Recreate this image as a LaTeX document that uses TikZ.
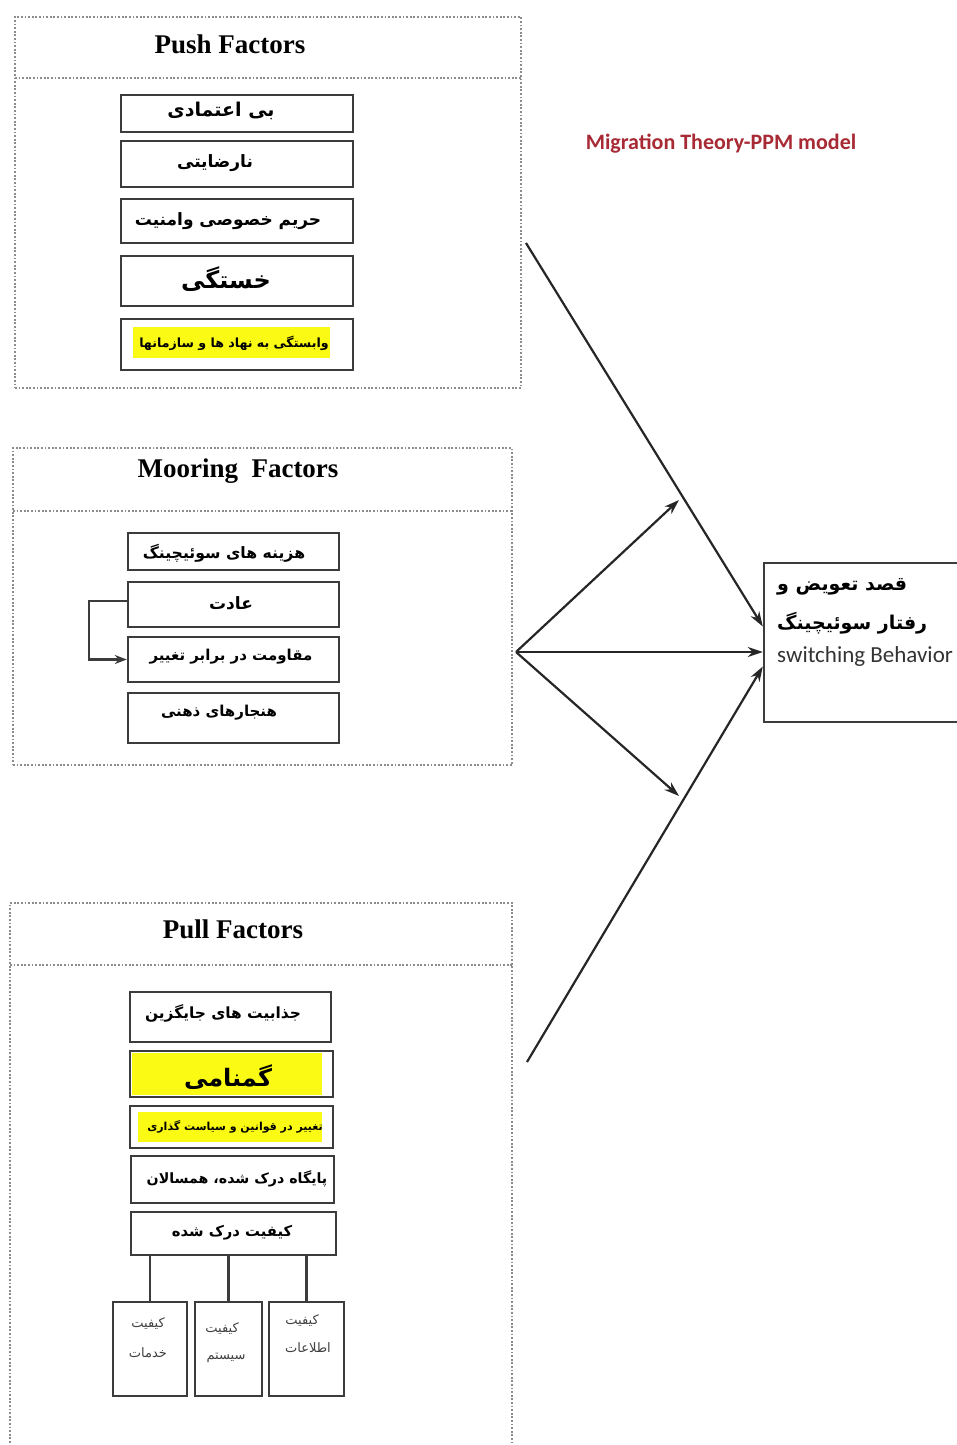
\documentclass[tikz,border=0pt]{standalone}
\usepackage{fontspec}
\setmainfont{Liberation Serif}
\newfontfamily\arabicfont[Script=Arabic]{DejaVu Sans}
\newfontfamily\calibrifont{Carlito}
\TeXXeTstate=1
\usetikzlibrary{arrows.meta}
\definecolor{titlered}{RGB}{168,42,52}
\definecolor{hl}{RGB}{250,250,20}
\definecolor{boxline}{RGB}{60,60,60}
\newcommand{\FA}[1]{\fontsize{#1}{#1}\selectfont\arabicfont\bfseries}
\newcommand{\FAr}[1]{\fontsize{#1}{#1}\selectfont\arabicfont}
\begin{document}
\begin{tikzpicture}[x=1pt,y=-1pt,
  outer/.style={draw=gray!90, line width=2pt, dash pattern=on 1.8pt off 1.8pt},
  fbox/.style={draw=boxline, line width=2.4pt, rectangle, inner sep=0pt},
  lbl/.style={inner sep=0pt, anchor=center},
  ttl/.style={inner sep=0pt, font=\fontsize{27}{27}\selectfont\bfseries},
  arr/.style={draw=black!85, line width=2.2pt, -{Stealth[length=15pt,width=10pt]}},
  conn/.style={draw=boxline, line width=2.4pt}]
\useasboundingbox (0,0) rectangle (957,1445);
\fill[white] (0,0) rectangle (957,1445);

% title
\node[lbl, text=titlered, font=\calibrifont\bfseries\fontsize{22}{22}\selectfont] (title) at (721,144) {Migration Theory-PPM model};

% ---------- Push ----------
\node[outer, minimum width=506pt, minimum height=371pt, inner sep=0pt] (push) at (268,202.5) {};
\draw[outer] (15,78) -- (521,78);
\node[ttl] (pusht) at (230,44) {Push Factors};
\node[fbox, minimum width=232pt, minimum height=37pt] (p1) at (237,113.5) {};
\node[fbox, minimum width=232pt, minimum height=46pt] (p2) at (237,164) {};
\node[fbox, minimum width=232pt, minimum height=44pt] (p3) at (237,221) {};
\node[fbox, minimum width=232pt, minimum height=50pt] (p4) at (237,281) {};
\node[fbox, minimum width=232pt, minimum height=51pt] (p5) at (237,344.5) {};
\fill[hl] (133,327) rectangle (330,358);
\node[lbl] (p1t) at (221,111) {\FA{19}\beginR بی اعتمادی\endR};
\node[lbl] (p2t) at (215,163) {\FA{17}\beginR نارضایتی\endR};
\node[lbl] (p3t) at (228,221) {\FA{17}\beginR حریم خصوصی وامنیت\endR};
\node[lbl] (p4t) at (226,279) {\FA{24}\beginR خستگی\endR};
\node[lbl] (p5t) at (234,343) {\FA{12.6}\beginR وابستگی به نهاد ها و سازمانها\endR};

% ---------- Mooring ----------
\node[outer, minimum width=499pt, minimum height=317pt, inner sep=0pt] (moor) at (262.5,606.5) {};
\draw[outer] (13,511) -- (512,511);
\node[ttl] (moort) at (238,471) {Mooring\ \ Factors};
\node[fbox, minimum width=211pt, minimum height=37pt] (m1) at (233.5,551.5) {};
\node[fbox, minimum width=211pt, minimum height=45pt] (m2) at (233.5,604.5) {};
\node[fbox, minimum width=211pt, minimum height=45pt] (m3) at (233.5,659.5) {};
\node[fbox, minimum width=211pt, minimum height=50pt] (m4) at (233.5,718) {};
\node[lbl] (m1t) at (224,553) {\FA{15.7}\beginR هزینه های سوئیچینگ\endR};
\node[lbl] (m2t) at (231,603) {\FA{17}\beginR عادت\endR};
\node[lbl] (m3t) at (231,657) {\FA{15}\beginR مقاومت در برابر تغییر\endR};
\node[lbl] (m4t) at (219,713) {\FA{15}\beginR هنجارهای ذهنی\endR};
\coordinate (loopL) at (89,601);
\draw[conn, -{Stealth[length=12pt,width=9pt]}] ([yshift=3.5pt]m2.west) -- (loopL) -- (loopL |- m3.west) -- (m3.west);

% ---------- Pull ----------
\draw[outer] (10,1450) -- (10,903) -- (512,903) -- (512,1450);
\draw[outer] (10,965) -- (512,965);
\node[ttl] (pullt) at (233,929) {Pull Factors};
\node[fbox, minimum width=201pt, minimum height=50pt] (q1) at (230.5,1017) {};
\node[fbox, minimum width=203pt, minimum height=46pt] (q2) at (231.5,1074) {};
\node[fbox, minimum width=203pt, minimum height=42pt] (q3) at (231.5,1127) {};
\node[fbox, minimum width=203pt, minimum height=47pt] (q4) at (232.5,1179.5) {};
\node[fbox, minimum width=205pt, minimum height=43pt] (q5) at (233.5,1233.5) {};
\fill[hl] (132,1053) rectangle (322,1095);
\fill[hl] (138,1112) rectangle (322,1142);
\node[lbl] (q1t) at (223,1013) {\FA{15.4}\beginR جذابیت های جایگزین\endR};
\node[lbl] (q2t) at (228,1077) {\FA{24}\beginR گمنامی\endR};
\node[lbl] (q3t) at (235,1127) {\FA{11}\beginR تغییر در قوانین و سیاست گذاری\endR};
\node[lbl] (q4t) at (237,1179) {\FA{14.2}\beginR پایگاه درک شده، همسالان\endR};
\node[lbl] (q5t) at (232,1233) {\FA{14.8}\beginR کیفیت درک شده\endR};
\node[fbox, minimum width=74pt, minimum height=94pt] (s1) at (150,1349) {};
\node[fbox, minimum width=67pt, minimum height=94pt] (s2) at (228.5,1349) {};
\node[fbox, minimum width=75pt, minimum height=94pt] (s3) at (306.5,1349) {};
\draw[conn] (s1.north) -- (s1.north |- q5.south);
\draw[conn] (s2.north) -- (s2.north |- q5.south);
\draw[conn] (s3.north) -- (s3.north |- q5.south);
\node[lbl, text=black!75] (s1a) at (148,1323) {\FAr{13}\beginR کیفیت\endR};
\node[lbl, text=black!75] (s1b) at (148,1353) {\FAr{13}\beginR خدمات\endR};
\node[lbl, text=black!75] (s2a) at (222,1328) {\FAr{13}\beginR کیفیت\endR};
\node[lbl, text=black!75] (s2b) at (226,1358) {\FAr{13}\beginR سیستم\endR};
\node[lbl, text=black!75] (s3a) at (302,1320) {\FAr{13}\beginR کیفیت\endR};
\node[lbl, text=black!75] (s3b) at (308,1348) {\FAr{13}\beginR اطلاعات\endR};

% ---------- Switching behaviour ----------
\node[fbox, minimum width=200pt, minimum height=159pt] (sb) at (864,642.5) {};
\node[lbl, anchor=west] (sb1) at (777,587) {\FA{19}\beginR قصد تعویض و\endR};
\node[lbl, anchor=west] (sb2) at (777,623) {\FA{19}\beginR رفتار سوئیچینگ\endR};
\node[lbl, anchor=west, font=\calibrifont\fontsize{23}{23}\selectfont, text=black!80] (sb3) at (777,656) {switching Behavior};

% ---------- arrows ----------
\coordinate (pa) at (526,243);
\coordinate (mo) at (516,652);
\coordinate (mu) at (679,500);
\coordinate (md) at (679,796);
\coordinate (pl) at (527,1062);
\draw[arr] (pa) -- ([yshift=16pt]sb.west);
\draw[arr] (mo) -- (mu);
\draw[arr] (mo) -- (sb.west |- mo);
\draw[arr] (mo) -- (md);
\draw[arr] (pl) -- ([yshift=-24pt]sb.west);
\end{tikzpicture}
\end{document}
